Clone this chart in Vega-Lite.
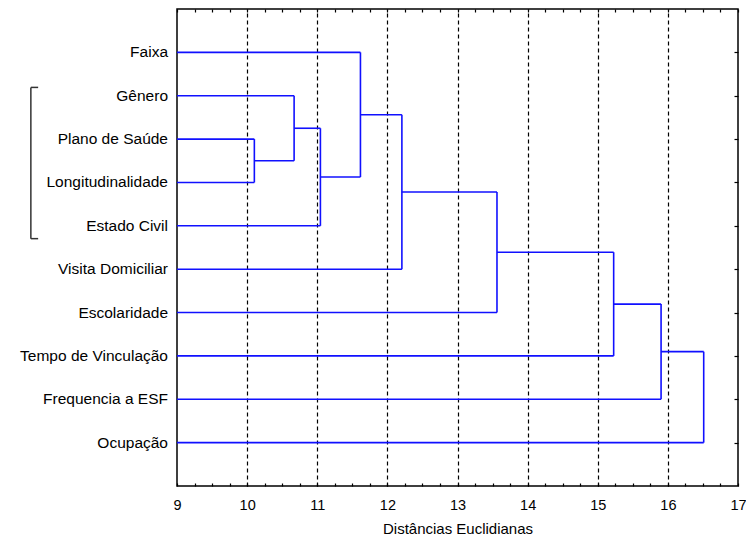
{
  "$schema": "https://vega.github.io/schema/vega-lite/v6.json",
  "width": 561,
  "height": 477,
  "autosize": {"type": "none"},
  "padding": {"left": 177, "top": 9, "right": 8, "bottom": 57},
  "background": "white",
  "config": {
    "view": {"stroke": "#000", "strokeWidth": 1.5},
    "font": "Liberation Sans"
  },
  "datasets": {
    "segments": [
      {"x": 9, "x2": 11.616, "y": 1, "y2": 1},
      {"x": 9, "x2": 10.670, "y": 2, "y2": 2},
      {"x": 9, "x2": 10.103, "y": 3, "y2": 3},
      {"x": 9, "x2": 10.103, "y": 4, "y2": 4},
      {"x": 9, "x2": 11.045, "y": 5, "y2": 5},
      {"x": 9, "x2": 12.207, "y": 6, "y2": 6},
      {"x": 9, "x2": 13.563, "y": 7, "y2": 7},
      {"x": 9, "x2": 15.227, "y": 8, "y2": 8},
      {"x": 9, "x2": 15.903, "y": 9, "y2": 9},
      {"x": 9, "x2": 16.511, "y": 10, "y2": 10},
      {"x": 10.103, "x2": 10.103, "y": 3, "y2": 4},
      {"x": 10.670, "x2": 10.670, "y": 2, "y2": 3.5},
      {"x": 11.045, "x2": 11.045, "y": 2.75, "y2": 5},
      {"x": 11.616, "x2": 11.616, "y": 1, "y2": 3.875},
      {"x": 12.207, "x2": 12.207, "y": 2.4375, "y2": 6},
      {"x": 13.563, "x2": 13.563, "y": 4.21875, "y2": 7},
      {"x": 15.227, "x2": 15.227, "y": 5.609, "y2": 8},
      {"x": 15.903, "x2": 15.903, "y": 6.805, "y2": 9},
      {"x": 16.511, "x2": 16.511, "y": 7.902, "y2": 10},
      {"x": 10.103, "x2": 10.670, "y": 3.5, "y2": 3.5},
      {"x": 10.670, "x2": 11.045, "y": 2.75, "y2": 2.75},
      {"x": 11.045, "x2": 11.616, "y": 3.875, "y2": 3.875},
      {"x": 11.616, "x2": 12.207, "y": 2.4375, "y2": 2.4375},
      {"x": 12.207, "x2": 13.563, "y": 4.21875, "y2": 4.21875},
      {"x": 13.563, "x2": 15.227, "y": 5.609, "y2": 5.609},
      {"x": 15.227, "x2": 15.903, "y": 6.805, "y2": 6.805},
      {"x": 15.903, "x2": 16.511, "y": 7.902, "y2": 7.902}
    ],
    "labels": [
      {"name": "Faixa", "row": 1},
      {"name": "Gênero", "row": 2},
      {"name": "Plano de Saúde", "row": 3},
      {"name": "Longitudinalidade", "row": 4},
      {"name": "Estado Civil", "row": 5},
      {"name": "Visita Domiciliar", "row": 6},
      {"name": "Escolaridade", "row": 7},
      {"name": "Tempo de Vinculação", "row": 8},
      {"name": "Frequencia a ESF", "row": 9},
      {"name": "Ocupação", "row": 10}
    ],
    "bracket": [
      {"x": 6.916, "x2": 6.916, "y": 1.808, "y2": 5.296},
      {"x": 6.916, "x2": 7.02, "y": 1.808, "y2": 1.808},
      {"x": 6.916, "x2": 7.02, "y": 5.296, "y2": 5.296}
    ]
  },
  "resolve": {"axis": {"x": "independent", "y": "independent"}},
  "layer": [
    {
      "data": {"name": "segments"},
      "mark": {"type": "rule", "color": "#1010ff", "strokeWidth": 1.6, "clip": false},
      "encoding": {
        "x": {
          "field": "x", "type": "quantitative",
          "scale": {"domain": [9, 17], "nice": false, "zero": false},
          "axis": {
            "orient": "bottom",
            "title": "Distâncias Euclidianas",
            "values": [9, 9.25, 9.5, 9.75, 10, 10.25, 10.5, 10.75, 11, 11.25, 11.5, 11.75, 12, 12.25, 12.5, 12.75, 13, 13.25, 13.5, 13.75, 14, 14.25, 14.5, 14.75, 15, 15.25, 15.5, 15.75, 16, 16.25, 16.5, 16.75, 17],
            "labelExpr": "datum.value % 1 === 0 ? format(datum.value, 'd') : ''",
            "labelOverlap": false,
            "labelFlush": false,
            "labelFontSize": 14.5,
            "labelColor": "#000",
            "labelPadding": 15,
            "tickSize": -3,
            "tickColor": "#000",
            "tickWidth": 1.2,
            "domain": false,
            "grid": true,
            "gridColor": "#000",
            "gridWidth": 1.2,
            "gridDash": [4, 3],
            "gridOpacity": {"condition": {"test": "datum.value % 1 !== 0 || datum.value === 9 || datum.value === 17", "value": 0}, "value": 1},
            "titleFontSize": 15,
            "titleFontWeight": "normal",
            "titleColor": "#000",
            "titlePadding": 10
          }
        },
        "x2": {"field": "x2"},
        "y": {
          "field": "y", "type": "quantitative",
          "scale": {"domain": [0, 11], "reverse": true, "nice": false, "zero": false},
          "axis": null
        },
        "y2": {"field": "y2"}
      }
    },
    {
      "data": {"name": "labels"},
      "mark": {"type": "text", "align": "right", "baseline": "middle", "dx": -9, "fontSize": 15.5, "color": "#000", "clip": false},
      "encoding": {
        "x": {"datum": 9, "type": "quantitative", "axis": null},
        "y": {"field": "row", "type": "quantitative", "axis": null},
        "text": {"field": "name"}
      }
    },
    {
      "data": {"name": "bracket"},
      "mark": {"type": "rule", "color": "#333", "strokeWidth": 1.5, "clip": false},
      "encoding": {
        "x": {
          "field": "x", "type": "quantitative",
          "axis": {
            "orient": "top",
            "title": null,
            "values": [9, 9.25, 9.5, 9.75, 10, 10.25, 10.5, 10.75, 11, 11.25, 11.5, 11.75, 12, 12.25, 12.5, 12.75, 13, 13.25, 13.5, 13.75, 14, 14.25, 14.5, 14.75, 15, 15.25, 15.5, 15.75, 16, 16.25, 16.5, 16.75, 17],
            "labels": false,
            "tickSize": -3,
            "tickColor": "#000",
            "tickWidth": 1.2,
            "domain": false,
            "grid": false
          }
        },
        "x2": {"field": "x2"},
        "y": {
          "field": "y", "type": "quantitative",
          "axis": {
            "orient": "right",
            "title": null,
            "values": [1, 2, 3, 4, 5, 6, 7, 8, 9, 10],
            "labels": false,
            "tickSize": -4,
            "tickColor": "#000",
            "tickWidth": 1.2,
            "domain": false,
            "grid": false
          }
        },
        "y2": {"field": "y2"}
      }
    }
  ]
}
